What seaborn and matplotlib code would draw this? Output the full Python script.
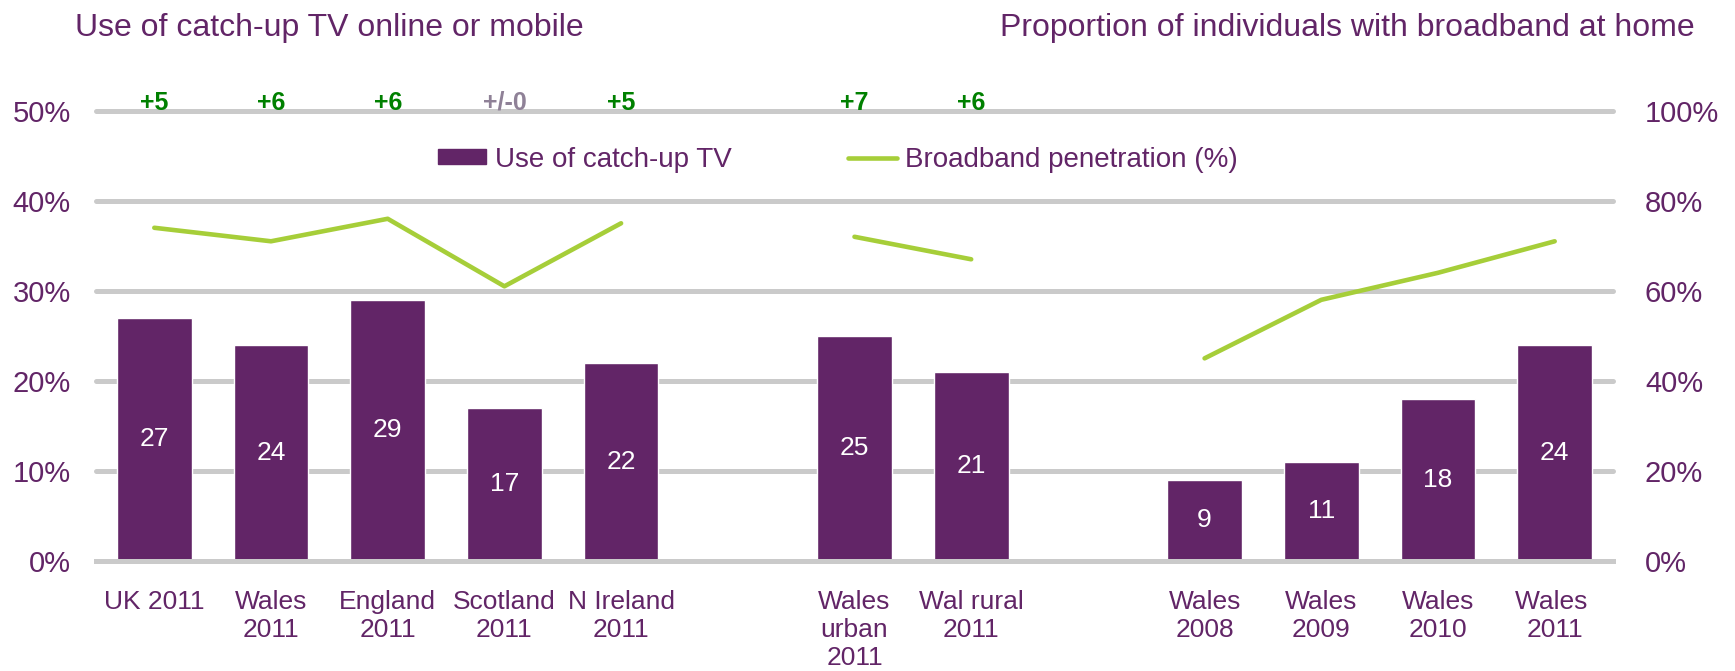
import matplotlib
matplotlib.use("Agg")
import matplotlib.pyplot as plt
from matplotlib.lines import Line2D
from matplotlib.patches import Patch
from matplotlib.ticker import FuncFormatter, FixedLocator
import numpy as np
import pandas as pd
import seaborn as sns

# chart data
slots = ["UK 2011", "Wales\n2011", "England\n2011", "Scotland\n2011", "N Ireland\n2011", " ",
         "Wales\nurban\n2011", "Wal rural\n2011", "  ",
         "Wales\n2008", "Wales\n2009", "Wales\n2010", "Wales \n2011"]
bar_cats = ["UK 2011", "Wales\n2011", "England\n2011", "Scotland\n2011", "N Ireland\n2011",
            "Wales\nurban\n2011", "Wal rural\n2011",
            "Wales\n2008", "Wales\n2009", "Wales\n2010", "Wales \n2011"]
catchup = [27, 24, 29, 17, 22, 25, 21, 9, 11, 18, 24]
broadband = [74, 71, 76, 61, 75, 72, 67, 45, 58, 64, 71]
line_group = ["nations"] * 5 + ["urbanrural"] * 2 + ["years"] * 4
change_cats = ["UK 2011", "Wales\n2011", "England\n2011", "Scotland\n2011", "N Ireland\n2011",
               "Wales\nurban\n2011", "Wal rural\n2011"]
change_text = ["+5", "+6", "+6", "+/-0", "+5", "+7", "+6"]

PURPLE = "#622567"
GREEN_LINE = "#A6CE39"
GRID = "#CACACA"
CHG_GREEN = "#008000"
CHG_GREY = "#8F8197"

sns.set_style("white")
plt.rcParams["font.family"] = ["Liberation Sans", "DejaVu Sans"]

fig = plt.figure(figsize=(17.35, 6.71), dpi=100)
ax = fig.add_axes([0.0553, 0.164, 0.8744, 0.671])

df = pd.DataFrame({"cat": bar_cats, "catchup": catchup})
sns.barplot(data=df, x="cat", y="catchup", order=slots, color=PURPLE,
            saturation=1, width=0.64, ax=ax, zorder=3)
ax.bar_label(ax.containers[0], labels=[str(v) for v in catchup], label_type="center",
             color="white", fontsize=19)

ax.set_xlim(-0.5, len(slots) - 0.5)
ax.set_ylim(0, 50)
ax.set_yticks(range(0, 51, 10))
ax.yaxis.set_major_formatter(FuncFormatter(lambda v, p: f"{int(v)}%"))
ax.grid(axis="y", color=GRID, linewidth=3.6, zorder=0)
for gl in ax.get_ygridlines():
    gl.set_clip_on(False)
ax.set_axisbelow(True)
for s in ["top", "right", "left"]:
    ax.spines[s].set_visible(False)
ax.spines["bottom"].set_color(GRID)
ax.spines["bottom"].set_linewidth(3.6)
ax.spines["bottom"].set_zorder(4)
ax.tick_params(axis="y", length=0, labelsize=21, labelcolor=PURPLE, pad=18)
ax.tick_params(axis="x", which="major", length=0, labelsize=19, labelcolor=PURPLE, pad=21)
ax.xaxis.set_minor_locator(FixedLocator(np.arange(-0.5, len(slots), 1.0)))
ax.tick_params(axis="x", which="minor", length=6, width=3.3, color=GRID)
ax.set_xlabel("")
ax.set_ylabel("")
for lab in ax.get_xticklabels():
    lab.set_linespacing(1.2)
    lab.set_verticalalignment("top")

# change labels along the top gridline
for c, t in zip(change_cats, change_text):
    ax.text(slots.index(c), 50.1, t, ha="center", va="baseline", fontsize=18,
            fontweight="bold", color=CHG_GREY if t == "+/-0" else CHG_GREEN, zorder=5)

# broadband line on the right axis
ax2 = ax.twinx()
ldf = pd.DataFrame({"x": [slots.index(c) for c in bar_cats], "bb": broadband, "g": line_group})
sns.lineplot(data=ldf, x="x", y="bb", units="g", estimator=None, color=GREEN_LINE,
             linewidth=3.3, ax=ax2, zorder=4)
ax2.set_ylim(0, 100)
ax2.set_yticks(range(0, 101, 20))
ax2.yaxis.set_major_formatter(FuncFormatter(lambda v, p: f"{int(v)}%"))
ax2.tick_params(axis="y", length=0, labelsize=21, labelcolor=PURPLE, pad=23)
ax2.set_ylabel("")
for s in ax2.spines.values():
    s.set_visible(False)
ax2.set_xlim(-0.5, len(slots) - 0.5)

handles = [Patch(color=PURPLE), Line2D([0], [0], color=GREEN_LINE, linewidth=3.3)]
ax2.legend(handles, ["Use of catch-up TV", "Broadband penetration (%)"], ncol=2,
           loc="center", bbox_to_anchor=(0.489, 0.891), frameon=False, fontsize=20,
           labelcolor=PURPLE, columnspacing=4.2, handlelength=1.75, handleheight=0.45,
           handletextpad=0.3)

fig.text(0.043, 0.958, "Use of catch-up TV online or mobile", fontsize=23, color=PURPLE,
         ha="left", va="center")
fig.text(0.977, 0.958, "Proportion of individuals with broadband at home", fontsize=23,
         color=PURPLE, ha="right", va="center")

fig.savefig("out.png", dpi=100)
